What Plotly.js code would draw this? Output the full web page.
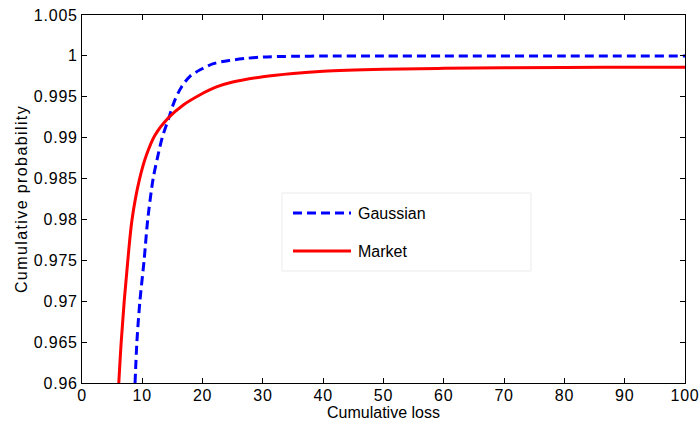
<!DOCTYPE html>
<html>
<head>
<meta charset="utf-8">
<script src="https://cdn.plot.ly/plotly-3.0.1.min.js"></script>
<style>
  html, body { margin: 0; padding: 0; background: #fff; }
  #chart { width: 699px; height: 421px; }
  /* slightly wider glyph spacing for the axis text */
  #chart .xtick text, #chart .ytick text { letter-spacing: 0.8px; }
  #chart .g-ytitle text { letter-spacing: 1.4px; }
</style>
</head>
<body>
<div id="chart"></div>
<script>
// Cumulative loss distribution: Gaussian model vs. market-implied
const gaussianLoss = [8.8, 9.1, 9.6, 10.3, 10.9, 11.8, 12.5, 13.3, 14.3, 15.4, 16.5, 17.9, 19.6, 21.8, 24.5, 27.3, 30, 35, 40, 50, 60, 80, 100];
const gaussianProb = [0.96, 0.965, 0.97, 0.975, 0.98, 0.985, 0.9875, 0.99, 0.9922, 0.9946, 0.9962, 0.9975, 0.9983, 0.99905, 0.99945, 0.9997, 0.99987, 0.99995, 0.99998, 1.0, 1.0, 1.0, 1.0];

const marketLoss = [6.1, 6.5, 7.0, 7.6, 8.3, 9.5, 10.7, 12.1, 14.3, 16.8, 19.6, 22.3, 25.0, 30, 35, 40, 50, 60, 70, 80, 90, 100];
const marketProb = [0.96, 0.965, 0.97, 0.975, 0.98, 0.9848, 0.9879, 0.9903, 0.9924, 0.9940, 0.99525, 0.9962, 0.9968, 0.99745, 0.99785, 0.99812, 0.99836, 0.99848, 0.99855, 0.99859, 0.99861, 0.99862];

const xTicks = [0, 10, 20, 30, 40, 50, 60, 70, 80, 90, 100];
const yTicks = [0.96, 0.965, 0.97, 0.975, 0.98, 0.985, 0.99, 0.995, 1, 1.005];
const yTickText = ['0.96', '0.965', '0.97', '0.975', '0.98', '0.985', '0.99', '0.995', '1', '1.005'];

const seriesNames = ['Gaussian', 'Market'];
const seriesColors = ['#0000ff', '#ff0000'];
const seriesDash = ['9px,5px', 'solid'];

const font = { family: 'Liberation Sans, Arial, sans-serif', size: 16, color: '#000' };

const W = 699, H = 421;
const M = { l: 82, r: 14, t: 15, b: 38 };
const plotW = W - M.l - M.r, plotH = H - M.t - M.b;
// pixel position -> paper fraction (for the legend box)
const px = v => (v - M.l) / plotW;
const py = v => (H - M.b - v) / plotH;

const traces = [
  {
    x: gaussianLoss, y: gaussianProb, name: seriesNames[0], mode: 'lines',
    line: { color: seriesColors[0], width: 3, dash: seriesDash[0], shape: 'spline', smoothing: 0.8 }
  },
  {
    x: marketLoss, y: marketProb, name: seriesNames[1], mode: 'lines',
    line: { color: seriesColors[1], width: 3, dash: seriesDash[1], shape: 'spline', smoothing: 1.0 }
  }
];

// Legend drawn as a boxed panel inside the plot area
const legendBox = { x0: 282, x1: 531, y0: 193, y1: 271 };
const legendRows = [213, 251];
const shapes = [{
  type: 'rect', xref: 'paper', yref: 'paper',
  x0: px(legendBox.x0), x1: px(legendBox.x1), y0: py(legendBox.y1), y1: py(legendBox.y0),
  line: { color: '#ebebeb', width: 1 }, fillcolor: '#ffffff', layer: 'above'
}];
const annotations = [];
seriesNames.forEach((name, i) => {
  shapes.push({
    type: 'line', xref: 'paper', yref: 'paper',
    x0: px(293), x1: px(351), y0: py(legendRows[i]), y1: py(legendRows[i]),
    line: { color: seriesColors[i], width: 3, dash: seriesDash[i] }, layer: 'above'
  });
  annotations.push({
    xref: 'paper', yref: 'paper', x: px(356), y: py(legendRows[i]),
    xanchor: 'left', yanchor: 'middle', showarrow: false,
    text: name, font: font
  });
});

const axisCommon = {
  showgrid: false, zeroline: false,
  showline: true, linecolor: '#000', linewidth: 1, mirror: 'ticks',
  ticks: 'inside', ticklen: 5, tickcolor: '#000', tickwidth: 1,
  tickfont: font
};

const layout = {
  width: W, height: H,
  margin: M,
  paper_bgcolor: '#fff', plot_bgcolor: '#fff',
  font: font,
  showlegend: false,
  shapes: shapes,
  annotations: annotations,
  xaxis: Object.assign({}, axisCommon, {
    range: [0, 100], tickmode: 'array', tickvals: xTicks,
    ticklabelstandoff: -2,
    title: { text: 'Cumulative loss', font: font, standoff: 5 }
  }),
  yaxis: Object.assign({}, axisCommon, {
    range: [0.96, 1.005], tickmode: 'array', tickvals: yTicks, ticktext: yTickText,
    title: { text: 'Cumulative probability', font: font, standoff: 6 }
  })
};

Plotly.newPlot('chart', traces, layout, { displayModeBar: false, staticPlot: true });
</script>
</body>
</html>
